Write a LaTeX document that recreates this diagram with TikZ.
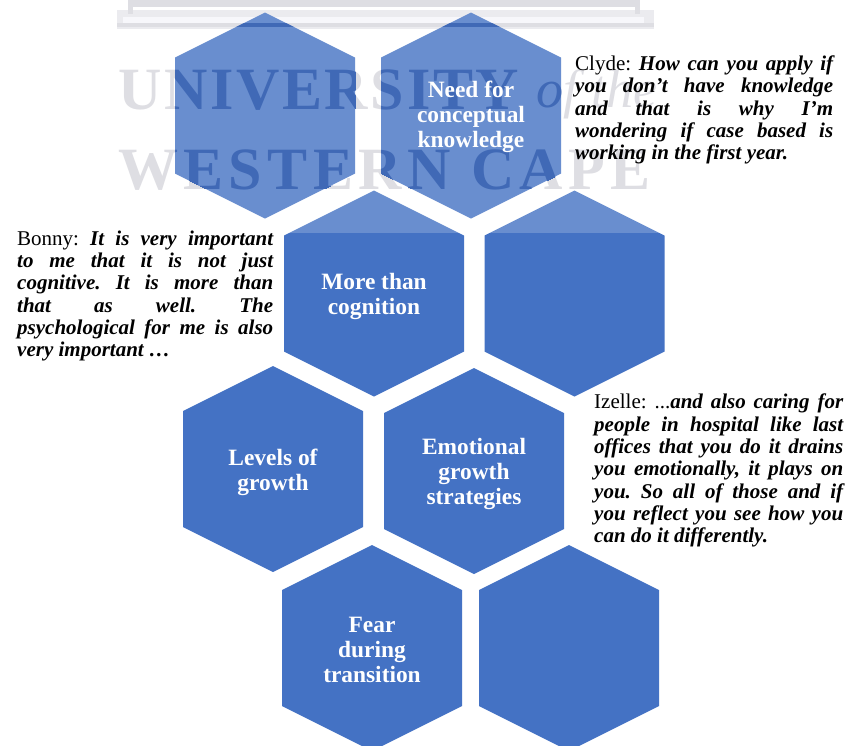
\documentclass[tikz,border=0pt]{standalone}
\usepackage{fontspec}
\usepackage{xcolor}
\setmainfont{Liberation Serif}
\definecolor{hexblue}{HTML}{4472C4}
\definecolor{markgray}{HTML}{D6D6DC}
\definecolor{marklight}{HTML}{E6E6EB}
\definecolor{markpale}{HTML}{F6F6FA}
\definecolor{markblue}{HTML}{4069B6}
\newcommand{\hexpath}[2]{(#1,#2) +(0,-103) -- +(90,-58) -- +(90,58) -- +(0,103) -- +(-90,58) -- +(-90,-58) -- cycle}
\newcommand{\markwords}[2]{%
    \node (#2univ) [marktext, text=#1] at (118,90) {\addfontfeature{LetterSpace=4.5}UNIVERSITY};
    \node (#2ofthe) [marktext, text=#1, font=\fontsize{54}{54}\selectfont\itshape] at (536,94) {of the};
    \node (#2west) [marktext, text=#1] at (118,170) {\addfontfeature{LetterSpace=9}WESTERN CAPE};
}
\tikzset{
    hexfill/.style={fill=hexblue},
    hexlabel/.style={text=white, align=center, inner sep=0pt, font=\fontsize{23.4}{25}\selectfont\bfseries},
    quotebox/.style={anchor=north west, inner sep=0pt, font=\fontsize{21}{22.3}\selectfont},
    marktext/.style={anchor=west, inner sep=0pt, font=\fontsize{60}{60}\selectfont\bfseries}
}
\newcommand{\quotetext}[2]{\parbox{#1}{\frenchspacing\hbadness=10000 \hfuzz=3pt \tolerance=9999 \parindent=0pt #2}}
\begin{document}
\begin{tikzpicture}[x=1pt, y=-1pt]
    \clip (0,0) rectangle (846,745);
    \fill[white] (0,0) rectangle (846,745);

    % watermark under the shapes
    \fill[marklight] (117,10) rectangle (654,29);
    \fill[markpale] (123,17) rectangle (644,23);
    \fill[markgray] (117,23) rectangle (654,27);
    \fill[markgray] (128,0) rectangle (640,7);
    \fill[markgray] (128,0) rectangle (133,14);
    \fill[markgray] (635,0) rectangle (640,14);
    \markwords{markgray}{g}

    % hexagons
    \foreach \x/\y in {265/115.5, 471/115.5, 374/293.5, 574.5/293.5, 273/469, 474/471, 372/648, 569/648}
        \fill[hexfill] \hexpath{\x}{\y};
    \fill[white, opacity=0.2] (98,0) rectangle (685,233);

    % watermark seen through the top row
    \begin{scope}
        \clip \hexpath{265}{115.5} \hexpath{471}{115.5};
        \fill[markblue] (117,23) rectangle (654,27);
        \markwords{markblue}{b}
    \end{scope}

    \node (need) [hexlabel] at (471,117) {Need for\\conceptual\\knowledge};
    \node (more) [hexlabel] at (374,296) {More than\\cognition};
    \node (levels) [hexlabel] at (273,472) {Levels of\\growth};
    \node (emotional) [hexlabel] at (474,474) {Emotional\\growth\\strategies};
    \node (fear) [hexlabel] at (372,650) {Fear\\during\\transition};

    \node (clyde) [quotebox] at (575,55.5) {\quotetext{258pt}{Clyde: \textbf{\textit{How can you apply if\linebreak
        you don’t have knowledge\linebreak
        and that is why I’m\linebreak
        wondering if case based is\linebreak
        working in the first year.}}}};
    \node (bonny) [quotebox] at (17,230.5) {\quotetext{256pt}{Bonny: \textbf{\textit{It is very important\linebreak
        to me that it is not just\linebreak
        cognitive. It is more than\linebreak
        that as well. The\linebreak
        psychological for me is also\linebreak
        very important …}}}};
    \node (izelle) [quotebox] at (594,394) {\quotetext{249pt}{Izelle: ...\textbf{\textit{and also caring for\linebreak
        people in hospital like last\linebreak
        offices that you do it drains\linebreak
        you emotionally, it plays on\linebreak
        you. So all of those and if\linebreak
        you reflect you see how you\linebreak
        can do it differently.}}}};
\end{tikzpicture}
\end{document}
